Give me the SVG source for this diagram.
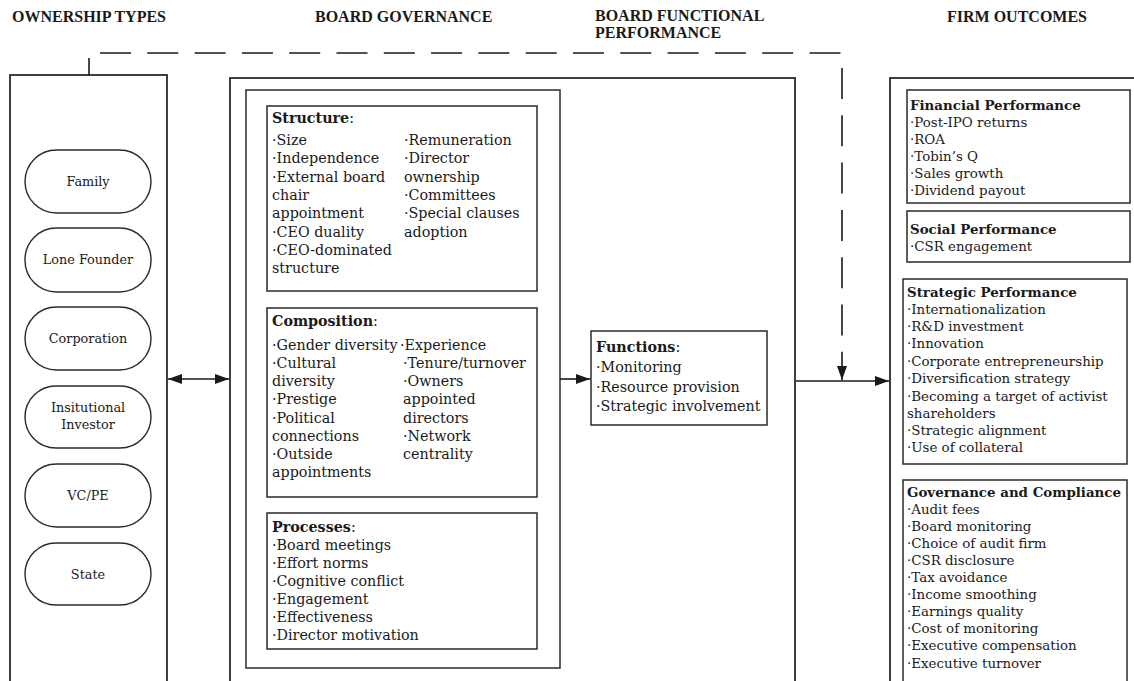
<svg xmlns="http://www.w3.org/2000/svg" width="1134" height="681" viewBox="0 0 1134 681">
  <defs>
    <marker id="arrow" viewBox="0 0 14 10" refX="14" refY="5" markerWidth="14" markerHeight="10" markerUnits="userSpaceOnUse" orient="auto-start-reverse">
      <path d="M0,0 L14,5 L0,10 Z" fill="#1a1a1a"/>
    </marker>
    <style>
      .hdr { font-family: "Liberation Serif", "Times New Roman", serif; font-weight: bold; font-size: 16px; fill: #1a1a1a; }
      .txt { font-family: "DejaVu Serif", "Liberation Serif", serif; font-size: 14.3px; fill: #1a1a1a; }
      .sm { font-family: "DejaVu Serif", "Liberation Serif", serif; font-size: 13.4px; fill: #1a1a1a; }
      .pill-t { font-family: "DejaVu Serif", "Liberation Serif", serif; font-size: 12.8px; fill: #1a1a1a; text-anchor: middle; }
      .b { font-weight: bold; }
      .frame { fill: none; stroke: #2a2a2a; stroke-width: 1.8; }
      .box { fill: #fff; stroke: #2a2a2a; stroke-width: 1.5; }
      .pill { fill: #fff; stroke: #2a2a2a; stroke-width: 1.4; }
      .link { fill: none; stroke: #1a1a1a; stroke-width: 1.6; }
      .dash { fill: none; stroke: #1a1a1a; stroke-width: 1.6; stroke-dasharray: 31 16.3; }
    </style>
  </defs>

  <rect width="1134" height="681" fill="#fff"/>

  <!-- column headings -->
  <g id="headings">
    <text class="hdr" x="12" y="22">OWNERSHIP TYPES</text>
    <text class="hdr" x="315" y="22">BOARD GOVERNANCE</text>
    <text class="hdr" x="595" y="21">BOARD FUNCTIONAL</text>
    <text class="hdr" x="595" y="38">PERFORMANCE</text>
    <text class="hdr" x="947" y="22">FIRM OUTCOMES</text>
  </g>

  <!-- ownership types column -->
  <g id="ownership-types">
    <rect class="frame" x="10" y="75" width="157" height="620"/>
    <g id="family">
      <rect class="pill" x="25" y="150" width="126" height="63" rx="31.5"/>
      <text class="pill-t" x="88" y="186">Family</text>
    </g>
    <g id="lone-founder">
      <rect class="pill" x="25" y="228" width="126" height="64" rx="31.5"/>
      <text class="pill-t" x="88" y="264">Lone Founder</text>
    </g>
    <g id="corporation">
      <rect class="pill" x="25" y="307" width="126" height="63" rx="31.5"/>
      <text class="pill-t" x="88" y="343">Corporation</text>
    </g>
    <g id="institutional-investor">
      <rect class="pill" x="25" y="386" width="126" height="62" rx="31"/>
      <text class="pill-t" x="88" y="412">Insitutional</text>
      <text class="pill-t" x="88" y="429">Investor</text>
    </g>
    <g id="vc-pe">
      <rect class="pill" x="25" y="464" width="126" height="63" rx="31.5"/>
      <text class="pill-t" x="88" y="500">VC/PE</text>
    </g>
    <g id="state">
      <rect class="pill" x="25" y="543" width="126" height="62" rx="31"/>
      <text class="pill-t" x="88" y="579">State</text>
    </g>
  </g>

  <!-- board governance column -->
  <g id="board-governance">
    <rect class="frame" x="230" y="78" width="565" height="620"/>
    <rect class="box" x="246" y="90" width="314" height="578"/>

    <g id="structure">
      <rect class="box" x="267" y="106" width="270" height="185"/>
      <text class="txt" x="272" y="123"><tspan class="b">Structure</tspan>:</text>
      <text class="txt">
        <tspan x="272" y="145">·Size</tspan>
        <tspan x="272" y="163">·Independence</tspan>
        <tspan x="272" y="182">·External board</tspan>
        <tspan x="272" y="200">chair</tspan>
        <tspan x="272" y="218">appointment</tspan>
        <tspan x="272" y="237">·CEO duality</tspan>
        <tspan x="272" y="255">·CEO-dominated</tspan>
        <tspan x="272" y="273">structure</tspan>
      </text>
      <text class="txt">
        <tspan x="404" y="145">·Remuneration</tspan>
        <tspan x="404" y="163">·Director</tspan>
        <tspan x="404" y="182">ownership</tspan>
        <tspan x="404" y="200">·Committees</tspan>
        <tspan x="404" y="218">·Special clauses</tspan>
        <tspan x="404" y="237">adoption</tspan>
      </text>
    </g>

    <g id="composition">
      <rect class="box" x="267" y="308" width="270" height="189"/>
      <text class="txt" x="272" y="326"><tspan class="b">Composition</tspan>:</text>
      <text class="txt">
        <tspan x="272" y="350">·Gender diversity</tspan>
        <tspan x="272" y="368">·Cultural</tspan>
        <tspan x="272" y="386">diversity</tspan>
        <tspan x="272" y="404">·Prestige</tspan>
        <tspan x="272" y="423">·Political</tspan>
        <tspan x="272" y="441">connections</tspan>
        <tspan x="272" y="459">·Outside</tspan>
        <tspan x="272" y="477">appointments</tspan>
      </text>
      <text class="txt">
        <tspan x="400" y="350">·Experience</tspan>
        <tspan x="403" y="368">·Tenure/turnover</tspan>
        <tspan x="403" y="386">·Owners</tspan>
        <tspan x="403" y="404">appointed</tspan>
        <tspan x="403" y="423">directors</tspan>
        <tspan x="403" y="441">·Network</tspan>
        <tspan x="403" y="459">centrality</tspan>
      </text>
    </g>

    <g id="processes">
      <rect class="box" x="267" y="513" width="270" height="136"/>
      <text class="txt" x="272" y="532"><tspan class="b">Processes</tspan>:</text>
      <text class="txt">
        <tspan x="272" y="550">·Board meetings</tspan>
        <tspan x="272" y="568">·Effort norms</tspan>
        <tspan x="272" y="586">·Cognitive conflict</tspan>
        <tspan x="272" y="604">·Engagement</tspan>
        <tspan x="272" y="622">·Effectiveness</tspan>
        <tspan x="272" y="640">·Director motivation</tspan>
      </text>
    </g>
  </g>

  <!-- board functional performance -->
  <g id="functions">
    <rect class="box" x="591" y="331" width="176" height="94"/>
    <text class="txt" x="596" y="352"><tspan class="b">Functions</tspan>:</text>
    <text class="txt">
      <tspan x="596" y="372">·Monitoring</tspan>
      <tspan x="596" y="392">·Resource provision</tspan>
      <tspan x="596" y="411">·Strategic involvement</tspan>
    </text>
  </g>

  <!-- firm outcomes column -->
  <g id="firm-outcomes">
    <rect class="frame" x="890" y="78" width="260" height="620"/>

    <g id="financial-performance">
      <rect class="box" x="907" y="90" width="223" height="113"/>
      <text class="sm b" x="910" y="110">Financial Performance</text>
      <text class="sm">
        <tspan x="910" y="127">·Post-IPO returns</tspan>
        <tspan x="910" y="144">·ROA</tspan>
        <tspan x="910" y="161">·Tobin’s Q</tspan>
        <tspan x="910" y="178">·Sales growth</tspan>
        <tspan x="910" y="195">·Dividend payout</tspan>
      </text>
    </g>

    <g id="social-performance">
      <rect class="box" x="907" y="211" width="223" height="51"/>
      <text class="sm b" x="910" y="234">Social Performance</text>
      <text class="sm" x="910" y="251">·CSR engagement</text>
    </g>

    <g id="strategic-performance">
      <rect class="box" x="903" y="279" width="224" height="185"/>
      <text class="sm b" x="907" y="297">Strategic Performance</text>
      <text class="sm">
        <tspan x="907" y="314">·Internationalization</tspan>
        <tspan x="907" y="331">·R&amp;D investment</tspan>
        <tspan x="907" y="348">·Innovation</tspan>
        <tspan x="907" y="366">·Corporate entrepreneurship</tspan>
        <tspan x="907" y="383">·Diversification strategy</tspan>
        <tspan x="907" y="401">·Becoming a target of activist</tspan>
        <tspan x="907" y="418">shareholders</tspan>
        <tspan x="907" y="435">·Strategic alignment</tspan>
        <tspan x="907" y="452">·Use of collateral</tspan>
      </text>
    </g>

    <g id="governance-compliance">
      <rect class="box" x="903" y="480" width="224" height="215"/>
      <text class="sm b" x="907" y="497">Governance and Compliance</text>
      <text class="sm">
        <tspan x="907" y="514">·Audit fees</tspan>
        <tspan x="907" y="531">·Board monitoring</tspan>
        <tspan x="907" y="548">·Choice of audit firm</tspan>
        <tspan x="907" y="565">·CSR disclosure</tspan>
        <tspan x="907" y="582">·Tax avoidance</tspan>
        <tspan x="907" y="599">·Income smoothing</tspan>
        <tspan x="907" y="616">·Earnings quality</tspan>
        <tspan x="907" y="633">·Cost of monitoring</tspan>
        <tspan x="907" y="650">·Executive compensation</tspan>
        <tspan x="907" y="668">·Executive turnover</tspan>
      </text>
    </g>
  </g>

  <!-- connectors -->
  <g id="connectors">
    <!-- ownership <-> governance -->
    <line class="link" x1="168" y1="379" x2="229" y2="379" marker-start="url(#arrow)" marker-end="url(#arrow)"/>
    <!-- governance -> functions -->
    <line class="link" x1="560" y1="379" x2="590" y2="379" marker-end="url(#arrow)"/>
    <!-- governance frame -> firm outcomes -->
    <line class="link" x1="796" y1="381" x2="889" y2="381" marker-end="url(#arrow)"/>
    <!-- direct ownership -> outcomes path (dashed) -->
    <line class="link" x1="89" y1="75" x2="89" y2="58"/>
    <line class="dash" x1="100" y1="53" x2="842" y2="53"/>
    <line class="dash" x1="842" y1="68" x2="842" y2="380" stroke-dasharray="30 17" marker-end="url(#arrow)"/>
  </g>
</svg>
